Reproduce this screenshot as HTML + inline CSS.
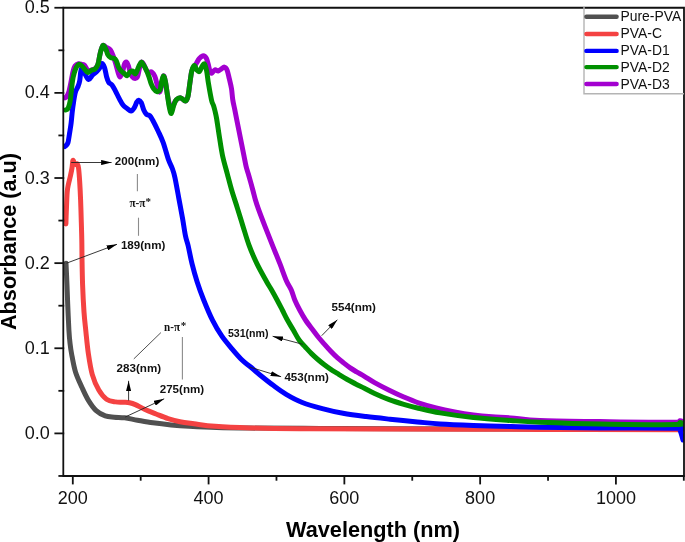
<!DOCTYPE html>
<html><head><meta charset="utf-8"><style>html,body{margin:0;padding:0;background:#fff;}svg{display:block;will-change:transform;}text{font-family:"Liberation Sans",sans-serif;}.ser{font-family:"Liberation Serif",serif;}</style></head><body>
<svg width="685" height="542" viewBox="0 0 685 542">
<rect width="685" height="542" fill="#fff"/>
<defs><clipPath id="pc"><rect x="63.3" y="7.75" width="620.7" height="468.25"/></clipPath><marker id="ah" viewBox="0 0 10.5 5.2" refX="10.5" refY="2.6" markerWidth="10.5" markerHeight="5.2" markerUnits="userSpaceOnUse" orient="auto"><path d="M0,0 L10.5,2.6 L0,5.2 z" fill="#000"/></marker></defs>
<g clip-path="url(#pc)" fill="none" stroke-width="5" stroke-linejoin="round" stroke-linecap="round">
<path d="M66.00,263.20 C66.17,266.90 66.72,278.63 67.00,285.40 C67.28,292.17 67.38,296.37 67.70,303.80 C68.02,311.23 68.52,323.47 68.90,330.00 C69.28,336.53 69.55,339.02 70.00,343.00 C70.45,346.98 70.68,349.07 71.60,353.90 C72.52,358.73 73.77,366.40 75.50,372.00 C77.23,377.60 79.85,382.77 82.00,387.50 C84.15,392.23 86.03,396.53 88.40,400.40 C90.77,404.27 93.40,408.12 96.20,410.70 C99.00,413.28 102.20,414.82 105.20,415.90 C108.20,416.98 110.97,416.88 114.20,417.20 C117.43,417.52 120.72,417.30 124.60,417.80 C128.48,418.30 132.77,419.37 137.50,420.20 C142.23,421.03 147.40,422.02 153.00,422.80 C158.60,423.58 165.07,424.32 171.10,424.90 C177.13,425.48 181.60,425.85 189.20,426.30 C196.80,426.75 206.57,427.30 216.70,427.60 C226.83,427.90 232.78,427.97 250.00,428.10 C267.22,428.23 295.00,428.28 320.00,428.40 C345.00,428.52 363.33,428.70 400.00,428.80 C436.67,428.90 492.67,428.93 540.00,429.00 C587.33,429.07 660.00,429.17 684.00,429.20" stroke="#505050"/>
<path d="M65.90,224.00 C65.97,222.00 66.08,217.33 66.30,212.00 C66.52,206.67 66.83,196.67 67.20,192.00 C67.57,187.33 67.97,186.67 68.50,184.00 C69.03,181.33 69.82,178.67 70.40,176.00 C70.98,173.33 71.58,170.58 72.00,168.00 C72.42,165.42 72.53,161.37 72.90,160.50 C73.27,159.63 73.73,162.13 74.20,162.80 C74.67,163.47 75.18,164.30 75.70,164.50 C76.22,164.70 76.82,163.33 77.30,164.00 C77.78,164.67 78.20,165.50 78.60,168.50 C79.00,171.50 79.37,176.75 79.70,182.00 C80.03,187.25 80.33,193.33 80.60,200.00 C80.87,206.67 81.10,215.33 81.30,222.00 C81.50,228.67 81.68,234.00 81.80,240.00 C81.92,246.00 81.87,250.50 82.00,258.00 C82.13,265.50 82.27,276.00 82.60,285.00 C82.93,294.00 83.47,304.38 84.00,312.00 C84.53,319.62 85.07,323.72 85.80,330.70 C86.53,337.68 87.32,346.58 88.40,353.90 C89.48,361.22 90.57,368.57 92.30,374.60 C94.03,380.63 96.43,386.00 98.80,390.10 C101.17,394.20 103.72,397.23 106.50,399.20 C109.28,401.17 112.62,401.40 115.50,401.90 C118.38,402.40 121.45,402.07 123.80,402.20 C126.15,402.33 127.67,402.30 129.60,402.70 C131.53,403.10 132.92,403.50 135.40,404.60 C137.88,405.70 141.07,407.73 144.50,409.30 C147.93,410.87 152.08,412.45 156.00,414.00 C159.92,415.55 164.00,417.30 168.00,418.60 C172.00,419.90 175.67,420.93 180.00,421.80 C184.33,422.67 188.17,423.05 194.00,423.80 C199.83,424.55 205.67,425.62 215.00,426.30 C224.33,426.98 235.83,427.50 250.00,427.90 C264.17,428.30 278.33,428.50 300.00,428.70 C321.67,428.90 340.00,428.98 380.00,429.10 C420.00,429.22 489.33,429.30 540.00,429.40 C590.67,429.50 660.00,429.65 684.00,429.70" stroke="#f44242"/>
<path d="M65.00,146.50 C65.47,145.95 67.07,145.23 67.80,143.20 C68.53,141.17 68.85,137.63 69.40,134.30 C69.95,130.97 70.63,126.88 71.10,123.20 C71.57,119.52 71.80,115.65 72.20,112.20 C72.60,108.75 72.98,105.78 73.50,102.50 C74.02,99.22 74.55,95.17 75.30,92.50 C76.05,89.83 77.27,88.43 78.00,86.50 C78.73,84.57 79.23,83.40 79.70,80.90 C80.17,78.40 80.43,73.62 80.80,71.50 C81.17,69.38 81.35,68.10 81.90,68.20 C82.45,68.30 83.00,70.22 84.10,72.10 C85.20,73.98 87.12,78.98 88.50,79.50 C89.88,80.02 91.10,76.45 92.40,75.20 C93.70,73.95 95.10,73.17 96.30,72.00 C97.50,70.83 98.65,69.62 99.60,68.20 C100.55,66.78 101.17,63.57 102.00,63.50 C102.83,63.43 103.83,65.60 104.60,67.80 C105.37,70.00 105.92,74.28 106.60,76.70 C107.28,79.12 107.80,80.92 108.70,82.30 C109.60,83.68 110.87,83.53 112.00,85.00 C113.13,86.47 114.27,88.78 115.50,91.10 C116.73,93.42 118.12,96.53 119.40,98.90 C120.68,101.27 121.92,103.70 123.20,105.30 C124.48,106.90 125.80,107.53 127.10,108.50 C128.40,109.47 129.82,111.20 131.00,111.10 C132.18,111.00 133.23,109.40 134.20,107.90 C135.17,106.40 136.05,103.38 136.80,102.10 C137.55,100.82 137.95,100.10 138.70,100.20 C139.45,100.30 140.43,101.02 141.30,102.70 C142.17,104.38 143.03,108.35 143.90,110.30 C144.77,112.25 145.53,113.52 146.50,114.40 C147.47,115.28 148.68,114.67 149.70,115.60 C150.72,116.53 151.20,117.43 152.60,120.00 C154.00,122.57 156.33,127.23 158.10,131.00 C159.87,134.77 161.48,137.87 163.20,142.60 C164.92,147.33 166.88,155.08 168.40,159.40 C169.92,163.72 171.22,165.48 172.30,168.50 C173.38,171.52 173.82,172.55 174.90,177.50 C175.98,182.45 177.52,191.32 178.80,198.20 C180.08,205.08 181.48,212.50 182.60,218.80 C183.72,225.10 184.58,231.55 185.50,236.00 C186.42,240.45 187.02,240.90 188.10,245.50 C189.18,250.10 190.50,257.57 192.00,263.60 C193.50,269.63 195.17,275.68 197.10,281.70 C199.03,287.72 201.02,293.25 203.60,299.70 C206.18,306.15 209.58,314.37 212.60,320.40 C215.62,326.43 218.47,331.17 221.70,335.90 C224.93,340.63 228.57,344.73 232.00,348.80 C235.43,352.87 239.30,357.35 242.30,360.30 C245.30,363.25 247.00,364.02 250.00,366.50 C253.00,368.98 256.43,372.07 260.30,375.20 C264.17,378.33 268.88,382.12 273.20,385.30 C277.52,388.48 281.45,391.48 286.20,394.30 C290.95,397.12 295.68,399.82 301.70,402.20 C307.72,404.58 315.42,406.75 322.30,408.60 C329.18,410.45 335.68,411.97 343.00,413.30 C350.32,414.63 358.37,415.62 366.20,416.60 C374.03,417.58 381.47,418.32 390.00,419.20 C398.53,420.08 409.07,421.10 417.40,421.90 C425.73,422.70 430.67,423.40 440.00,424.00 C449.33,424.60 461.60,425.07 473.40,425.50 C485.20,425.93 499.70,426.30 510.80,426.60 C521.90,426.90 525.13,427.07 540.00,427.30 C554.87,427.53 577.17,427.83 600.00,428.00 C622.83,428.17 663.67,427.97 677.00,428.30 C690.33,428.63 679.00,428.05 680.00,430.00 C681.00,431.95 682.50,438.33 683.00,440.00" stroke="#0000ff"/>
<path d="M65.00,97.80 C65.27,97.60 65.97,97.57 66.60,96.60 C67.23,95.63 68.07,94.43 68.80,92.00 C69.53,89.57 70.30,85.42 71.00,82.00 C71.70,78.58 72.33,74.17 73.00,71.50 C73.67,68.83 74.08,67.28 75.00,66.00 C75.92,64.72 77.33,64.05 78.50,63.80 C79.67,63.55 80.97,64.23 82.00,64.50 C83.03,64.77 83.70,64.32 84.70,65.40 C85.70,66.48 86.90,70.23 88.00,71.00 C89.10,71.77 90.10,70.42 91.30,70.00 C92.50,69.58 94.08,69.50 95.20,68.50 C96.32,67.50 97.17,66.53 98.00,64.00 C98.83,61.47 99.38,56.38 100.20,53.30 C101.02,50.22 101.85,46.47 102.90,45.50 C103.95,44.53 105.23,46.75 106.50,47.50 C107.77,48.25 109.42,48.67 110.50,50.00 C111.58,51.33 112.17,53.33 113.00,55.50 C113.83,57.67 114.65,60.17 115.50,63.00 C116.35,65.83 117.35,70.17 118.10,72.50 C118.85,74.83 119.27,77.08 120.00,77.00 C120.73,76.92 121.75,74.17 122.50,72.00 C123.25,69.83 123.83,65.65 124.50,64.00 C125.17,62.35 125.83,61.77 126.50,62.10 C127.17,62.43 127.83,64.10 128.50,66.00 C129.17,67.90 129.67,71.50 130.50,73.50 C131.33,75.50 132.35,77.43 133.50,78.00 C134.65,78.57 136.40,78.57 137.40,76.90 C138.40,75.23 138.83,70.47 139.50,68.00 C140.17,65.53 140.65,62.60 141.40,62.10 C142.15,61.60 143.15,63.60 144.00,65.00 C144.85,66.40 145.75,69.25 146.50,70.50 C147.25,71.75 147.65,72.28 148.50,72.50 C149.35,72.72 150.55,71.17 151.60,71.80 C152.65,72.43 153.83,74.02 154.80,76.30 C155.77,78.58 156.63,82.88 157.40,85.50 C158.17,88.12 158.80,91.58 159.40,92.00 C160.00,92.42 160.33,90.67 161.00,88.00 C161.67,85.33 162.68,77.15 163.40,76.00 C164.12,74.85 164.65,78.10 165.30,81.10 C165.95,84.10 166.65,90.18 167.30,94.00 C167.95,97.82 168.57,101.08 169.20,104.00 C169.83,106.92 170.35,111.43 171.10,111.50 C171.85,111.57 172.83,106.35 173.70,104.40 C174.57,102.45 175.12,100.88 176.30,99.80 C177.48,98.72 179.30,97.68 180.80,97.90 C182.30,98.12 184.12,101.32 185.30,101.10 C186.48,100.88 187.15,99.50 187.90,96.60 C188.65,93.70 189.15,88.00 189.80,83.70 C190.45,79.40 191.03,73.67 191.80,70.80 C192.57,67.93 193.60,67.80 194.40,66.50 C195.20,65.20 195.80,64.32 196.60,63.00 C197.40,61.68 198.17,59.80 199.20,58.60 C200.23,57.40 201.83,56.15 202.80,55.80 C203.77,55.45 204.37,56.00 205.00,56.50 C205.63,57.00 206.05,57.47 206.60,58.80 C207.15,60.13 207.75,62.47 208.30,64.50 C208.85,66.53 209.35,69.55 209.90,71.00 C210.45,72.45 210.77,73.38 211.60,73.20 C212.43,73.02 213.80,70.27 214.90,69.90 C216.00,69.53 217.10,71.18 218.20,71.00 C219.30,70.82 220.48,69.45 221.50,68.80 C222.52,68.15 223.38,66.92 224.30,67.10 C225.22,67.28 226.17,67.97 227.00,69.90 C227.83,71.83 228.55,75.57 229.30,78.70 C230.05,81.83 230.92,85.15 231.50,88.70 C232.08,92.25 232.27,96.58 232.80,100.00 C233.33,103.42 234.08,106.12 234.70,109.20 C235.32,112.28 235.58,113.88 236.50,118.50 C237.42,123.12 238.97,130.75 240.20,136.90 C241.43,143.05 242.92,150.48 243.90,155.40 C244.88,160.32 245.33,163.22 246.10,166.40 C246.87,169.58 247.38,170.57 248.50,174.50 C249.62,178.43 251.67,185.83 252.80,190.00 C253.93,194.17 254.40,196.43 255.30,199.50 C256.20,202.57 256.55,203.83 258.20,208.40 C259.85,212.97 262.82,220.75 265.20,226.90 C267.58,233.05 270.05,239.17 272.50,245.30 C274.95,251.43 277.57,257.75 279.90,263.70 C282.23,269.65 284.60,276.62 286.50,281.00 C288.40,285.38 289.92,286.83 291.30,290.00 C292.68,293.17 293.40,296.67 294.80,300.00 C296.20,303.33 297.92,306.67 299.70,310.00 C301.48,313.33 303.30,316.67 305.50,320.00 C307.70,323.33 310.78,327.17 312.90,330.00 C315.02,332.83 316.28,334.63 318.20,337.00 C320.12,339.37 322.30,341.82 324.40,344.20 C326.50,346.58 328.65,349.05 330.80,351.30 C332.95,353.55 335.15,355.77 337.30,357.70 C339.45,359.63 341.55,361.20 343.70,362.90 C345.85,364.60 348.05,366.40 350.20,367.90 C352.35,369.40 354.23,370.50 356.60,371.90 C358.97,373.30 361.40,374.52 364.40,376.30 C367.40,378.08 370.47,380.28 374.60,382.60 C378.73,384.92 384.33,387.80 389.20,390.20 C394.07,392.60 398.93,394.90 403.80,397.00 C408.67,399.10 413.02,400.98 418.40,402.80 C423.78,404.62 430.05,406.38 436.10,407.90 C442.15,409.42 448.48,410.73 454.70,411.90 C460.92,413.07 467.17,414.08 473.40,414.90 C479.63,415.72 485.87,416.30 492.10,416.80 C498.33,417.30 502.82,417.27 510.80,417.90 C518.78,418.53 525.13,419.98 540.00,420.60 C554.87,421.22 577.33,421.32 600.00,421.60 C622.67,421.88 662.67,422.43 676.00,422.30 C689.33,422.17 678.67,420.85 680.00,420.80 C681.33,420.75 683.33,421.80 684.00,422.00" stroke="#a300d0"/>
<path d="M65.50,110.00 C65.88,109.80 67.15,109.73 67.80,108.80 C68.45,107.87 68.95,106.05 69.40,104.40 C69.85,102.75 70.22,100.75 70.50,98.90 C70.78,97.05 70.77,96.28 71.10,93.30 C71.43,90.32 71.98,84.35 72.50,81.00 C73.02,77.65 73.55,75.52 74.20,73.20 C74.85,70.88 75.58,68.58 76.40,67.10 C77.22,65.62 78.18,64.48 79.10,64.30 C80.02,64.12 80.97,65.17 81.90,66.00 C82.83,66.83 83.68,68.20 84.70,69.30 C85.72,70.40 86.90,72.42 88.00,72.60 C89.10,72.78 90.10,71.03 91.30,70.40 C92.50,69.77 94.08,69.82 95.20,68.80 C96.32,67.78 97.17,66.88 98.00,64.30 C98.83,61.72 99.38,56.43 100.20,53.30 C101.02,50.17 101.98,46.25 102.90,45.50 C103.82,44.75 104.87,47.23 105.70,48.80 C106.53,50.37 107.07,53.42 107.90,54.90 C108.73,56.38 109.77,57.15 110.70,57.70 C111.63,58.25 112.60,57.73 113.50,58.20 C114.40,58.67 115.23,58.95 116.10,60.50 C116.97,62.05 117.83,65.73 118.70,67.50 C119.57,69.27 120.33,70.07 121.30,71.10 C122.27,72.13 123.53,72.95 124.50,73.70 C125.47,74.45 126.13,75.92 127.10,75.60 C128.07,75.28 129.33,72.55 130.30,71.80 C131.27,71.05 132.03,70.78 132.90,71.10 C133.77,71.42 134.53,74.45 135.50,73.70 C136.47,72.95 137.72,68.53 138.70,66.60 C139.68,64.67 140.53,62.28 141.40,62.10 C142.27,61.92 143.05,64.10 143.90,65.50 C144.75,66.90 145.65,68.60 146.50,70.50 C147.35,72.40 148.25,74.75 149.00,76.90 C149.75,79.05 150.25,81.47 151.00,83.40 C151.75,85.33 152.53,87.15 153.50,88.50 C154.47,89.85 155.72,91.25 156.80,91.50 C157.88,91.75 159.22,91.58 160.00,90.00 C160.78,88.42 160.93,84.33 161.50,82.00 C162.07,79.67 162.77,76.15 163.40,76.00 C164.03,75.85 164.65,78.10 165.30,81.10 C165.95,84.10 166.65,89.77 167.30,94.00 C167.95,98.23 168.53,103.25 169.20,106.50 C169.87,109.75 170.55,113.68 171.30,113.50 C172.05,113.32 172.87,107.68 173.70,105.40 C174.53,103.12 175.12,101.05 176.30,99.80 C177.48,98.55 179.30,97.68 180.80,97.90 C182.30,98.12 184.12,101.32 185.30,101.10 C186.48,100.88 187.15,99.50 187.90,96.60 C188.65,93.70 189.15,88.00 189.80,83.70 C190.45,79.40 191.03,73.82 191.80,70.80 C192.57,67.78 193.55,65.70 194.40,65.60 C195.25,65.50 196.05,69.22 196.90,70.20 C197.75,71.18 198.63,72.15 199.50,71.50 C200.37,70.85 201.27,67.55 202.10,66.30 C202.93,65.05 203.75,63.25 204.50,64.00 C205.25,64.75 205.93,67.52 206.60,70.80 C207.27,74.08 207.67,78.75 208.50,83.70 C209.33,88.65 210.77,96.87 211.60,100.50 C212.43,104.13 212.93,103.75 213.50,105.50 C214.07,107.25 214.48,108.83 215.00,111.00 C215.52,113.17 215.87,114.18 216.60,118.50 C217.33,122.82 218.42,130.75 219.40,136.90 C220.38,143.05 221.18,149.25 222.50,155.40 C223.82,161.55 225.75,167.95 227.30,173.80 C228.85,179.65 230.10,184.73 231.80,190.50 C233.50,196.27 235.60,202.33 237.50,208.40 C239.40,214.47 241.27,220.75 243.20,226.90 C245.13,233.05 246.82,239.17 249.10,245.30 C251.38,251.43 254.00,257.67 256.90,263.70 C259.80,269.73 264.05,277.12 266.50,281.50 C268.95,285.88 269.83,286.92 271.60,290.00 C273.37,293.08 275.32,296.67 277.10,300.00 C278.88,303.33 280.58,306.67 282.30,310.00 C284.02,313.33 285.57,316.67 287.40,320.00 C289.23,323.33 291.35,326.67 293.30,330.00 C295.25,333.33 297.07,337.13 299.10,340.00 C301.13,342.87 303.43,344.93 305.50,347.20 C307.57,349.47 309.43,351.55 311.50,353.60 C313.57,355.65 315.75,357.63 317.90,359.50 C320.05,361.37 322.25,363.15 324.40,364.80 C326.55,366.45 328.65,367.97 330.80,369.40 C332.95,370.83 335.15,372.08 337.30,373.40 C339.45,374.72 341.55,376.03 343.70,377.30 C345.85,378.57 348.05,379.82 350.20,381.00 C352.35,382.18 354.23,383.20 356.60,384.40 C358.97,385.60 361.40,386.70 364.40,388.20 C367.40,389.70 370.47,391.50 374.60,393.40 C378.73,395.30 384.33,397.78 389.20,399.60 C394.07,401.42 398.93,402.87 403.80,404.30 C408.67,405.73 412.37,406.77 418.40,408.20 C424.43,409.63 430.83,411.35 440.00,412.90 C449.17,414.45 461.60,416.23 473.40,417.50 C485.20,418.77 499.70,419.72 510.80,420.50 C521.90,421.28 525.13,421.62 540.00,422.20 C554.87,422.78 577.33,423.60 600.00,424.00 C622.67,424.40 662.67,424.85 676.00,424.60 C689.33,424.35 678.67,422.60 680.00,422.50 C681.33,422.40 683.33,423.75 684.00,424.00" stroke="#009000"/>
</g>
<g stroke="#111" stroke-width="1.8" fill="none" stroke-linecap="square">
<path d="M63.3,7.75 H684 V476 H63.3 Z" stroke-linecap="butt"/>
<path d="M59.30,475.96 H63.3"/>
<path d="M55.30,433.40 H63.3"/>
<path d="M59.30,390.83 H63.3"/>
<path d="M55.30,348.27 H63.3"/>
<path d="M59.30,305.70 H63.3"/>
<path d="M55.30,263.14 H63.3"/>
<path d="M59.30,220.57 H63.3"/>
<path d="M55.30,178.01 H63.3"/>
<path d="M59.30,135.44 H63.3"/>
<path d="M55.30,92.88 H63.3"/>
<path d="M59.30,50.31 H63.3"/>
<path d="M55.30,7.75 H63.3"/>
<path d="M72.80,476 V483.50"/>
<path d="M140.69,476 V479.80"/>
<path d="M208.58,476 V483.50"/>
<path d="M276.47,476 V479.80"/>
<path d="M344.36,476 V483.50"/>
<path d="M412.25,476 V479.80"/>
<path d="M480.14,476 V483.50"/>
<path d="M548.03,476 V479.80"/>
<path d="M615.92,476 V483.50"/>
<path d="M683.81,476 V479.80"/>
</g>
<g font-size="18" fill="#111">
<text x="49.8" y="439.00" text-anchor="end">0.0</text>
<text x="49.8" y="353.87" text-anchor="end">0.1</text>
<text x="49.8" y="268.74" text-anchor="end">0.2</text>
<text x="49.8" y="183.61" text-anchor="end">0.3</text>
<text x="49.8" y="98.48" text-anchor="end">0.4</text>
<text x="49.8" y="13.35" text-anchor="end">0.5</text>
<text x="72.80" y="504.1" text-anchor="middle">200</text>
<text x="208.58" y="504.1" text-anchor="middle">400</text>
<text x="344.36" y="504.1" text-anchor="middle">600</text>
<text x="480.14" y="504.1" text-anchor="middle">800</text>
<text x="615.92" y="504.1" text-anchor="middle">1000</text>
</g>
<text x="373" y="537" font-size="21.7" font-weight="bold" text-anchor="middle" fill="#000">Wavelength (nm)</text>
<text transform="translate(16.3,241.5) rotate(-90)" font-size="21.7" font-weight="bold" text-anchor="middle" fill="#000">Absorbance (a.u)</text>
<path d="M584,7 V93.8 H684" fill="none" stroke="#b4b4b4" stroke-width="1.4"/>
<path d="M586.4,16.70 H616.6" stroke="#505050" stroke-width="4.4" stroke-linecap="round"/>
<path d="M586.4,34.00 H616.6" stroke="#f44242" stroke-width="4.4" stroke-linecap="round"/>
<path d="M586.4,50.90 H616.6" stroke="#0000ff" stroke-width="4.4" stroke-linecap="round"/>
<path d="M586.4,67.10 H616.6" stroke="#009000" stroke-width="4.4" stroke-linecap="round"/>
<path d="M586.4,84.00 H616.6" stroke="#a300d0" stroke-width="4.4" stroke-linecap="round"/>
<g font-size="13.9" fill="#111">
<text x="620.5" y="20.90">Pure-PVA</text>
<text x="620.5" y="37.80">PVA-C</text>
<text x="620.5" y="54.70">PVA-D1</text>
<text x="620.5" y="71.60">PVA-D2</text>
<text x="620.5" y="88.50">PVA-D3</text>
</g>
<g fill="#111" font-weight="bold">
<text x="114.80" y="165.00" font-size="11.6">200(nm)</text>
<text x="120.90" y="248.60" font-size="11.6">189(nm)</text>
<text x="116.60" y="371.80" font-size="11.6">283(nm)</text>
<text x="159.70" y="392.70" font-size="11.6">275(nm)</text>
<text x="227.90" y="337.10" font-size="10.6">531(nm)</text>
<text x="331.50" y="311.40" font-size="11.6">554(nm)</text>
<text x="284.40" y="381.30" font-size="11.6">453(nm)</text>
</g>
<g fill="#111" font-size="11" font-weight="bold" class="ser">
<text class="ser" x="129.4" y="206.9" font-size="12.6" textLength="16" lengthAdjust="spacingAndGlyphs">&#960;-&#960;</text><text class="ser" x="145.6" y="205.3">*</text>
<text class="ser" x="164.1" y="330.8" font-size="12.2" textLength="15.9" lengthAdjust="spacingAndGlyphs">n-&#960;</text><text class="ser" x="180.7" y="329.4">*</text>
</g>
<g stroke="#222" stroke-width="0.9" fill="none">
<path d="M71.20,162.50 L111.60,162.50" marker-end="url(#ah)"/>
<path d="M66.50,263.20 L117.00,244.30" marker-end="url(#ah)"/>
<path d="M128.60,400.50 L128.60,380.80" marker-end="url(#ah)"/>
<path d="M125.20,417.00 L164.20,398.80" marker-end="url(#ah)"/>
<path d="M302.80,344.30 L272.60,336.30" marker-end="url(#ah)"/>
<path d="M321.70,335.70 L337.40,319.70" marker-end="url(#ah)"/>
<path d="M248.90,366.80 L281.10,376.70" marker-end="url(#ah)"/>
</g>
<g stroke="#8c8c8c" stroke-width="1.1" fill="none">
<path d="M137.40,173.90 L137.40,191.30"/>
<path d="M138.50,217.70 L138.50,235.80"/>
<path d="M182.40,336.90 L182.40,379.60"/>
</g>
<path d="M160.9,332.6 L133.8,358.9" stroke="#3c3c3c" stroke-width="0.9" fill="none"/>
</svg></body></html>
